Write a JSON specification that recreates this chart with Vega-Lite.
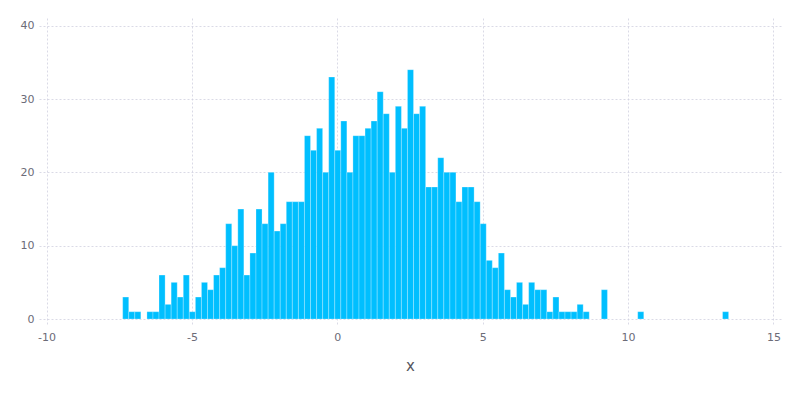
{
  "$schema": "https://vega.github.io/schema/vega-lite/v6.json",
  "width": 742,
  "height": 308,
  "autosize": {"type": "none"},
  "padding": {"left": 39, "top": 18, "right": 19, "bottom": 74},
  "background": "white",
  "config": {
    "view": {"stroke": null},
    "font": "DejaVu Sans",
    "axis": {
      "domain": false,
      "ticks": false,
      "grid": true,
      "gridColor": "#D0D0E0",
      "gridDash": [2, 2],
      "gridWidth": 0.8,
      "labelColor": "#6c6c78",
      "labelFont": "DejaVu Sans",
      "labelFontSize": 11,
      "titleColor": "#565660",
      "titleFont": "DejaVu Sans",
      "titleFontWeight": "normal",
      "titleFontSize": 15
    }
  },
  "data": {
    "values": [
      {"start": -7.382, "end": -7.174, "count": 3},
      {"start": -7.174, "end": -6.965, "count": 1},
      {"start": -6.965, "end": -6.757, "count": 1},
      {"start": -6.548, "end": -6.340, "count": 1},
      {"start": -6.340, "end": -6.132, "count": 1},
      {"start": -6.132, "end": -5.923, "count": 6},
      {"start": -5.923, "end": -5.715, "count": 2},
      {"start": -5.715, "end": -5.506, "count": 5},
      {"start": -5.506, "end": -5.298, "count": 3},
      {"start": -5.298, "end": -5.090, "count": 6},
      {"start": -5.090, "end": -4.881, "count": 1},
      {"start": -4.881, "end": -4.673, "count": 3},
      {"start": -4.673, "end": -4.464, "count": 5},
      {"start": -4.464, "end": -4.256, "count": 4},
      {"start": -4.256, "end": -4.048, "count": 6},
      {"start": -4.048, "end": -3.839, "count": 7},
      {"start": -3.839, "end": -3.631, "count": 13},
      {"start": -3.631, "end": -3.422, "count": 10},
      {"start": -3.422, "end": -3.214, "count": 15},
      {"start": -3.214, "end": -3.006, "count": 6},
      {"start": -3.006, "end": -2.797, "count": 9},
      {"start": -2.797, "end": -2.589, "count": 15},
      {"start": -2.589, "end": -2.380, "count": 13},
      {"start": -2.380, "end": -2.172, "count": 20},
      {"start": -2.172, "end": -1.964, "count": 12},
      {"start": -1.964, "end": -1.755, "count": 13},
      {"start": -1.755, "end": -1.547, "count": 16},
      {"start": -1.547, "end": -1.338, "count": 16},
      {"start": -1.338, "end": -1.130, "count": 16},
      {"start": -1.130, "end": -0.922, "count": 25},
      {"start": -0.922, "end": -0.713, "count": 23},
      {"start": -0.713, "end": -0.505, "count": 26},
      {"start": -0.505, "end": -0.296, "count": 20},
      {"start": -0.296, "end": -0.088, "count": 33},
      {"start": -0.088, "end": 0.120, "count": 23},
      {"start": 0.120, "end": 0.329, "count": 27},
      {"start": 0.329, "end": 0.537, "count": 20},
      {"start": 0.537, "end": 0.746, "count": 25},
      {"start": 0.746, "end": 0.954, "count": 25},
      {"start": 0.954, "end": 1.162, "count": 26},
      {"start": 1.162, "end": 1.371, "count": 27},
      {"start": 1.371, "end": 1.579, "count": 31},
      {"start": 1.579, "end": 1.788, "count": 28},
      {"start": 1.788, "end": 1.996, "count": 20},
      {"start": 1.996, "end": 2.204, "count": 29},
      {"start": 2.204, "end": 2.413, "count": 26},
      {"start": 2.413, "end": 2.621, "count": 34},
      {"start": 2.621, "end": 2.830, "count": 28},
      {"start": 2.830, "end": 3.038, "count": 29},
      {"start": 3.038, "end": 3.246, "count": 18},
      {"start": 3.246, "end": 3.455, "count": 18},
      {"start": 3.455, "end": 3.663, "count": 22},
      {"start": 3.663, "end": 3.872, "count": 20},
      {"start": 3.872, "end": 4.080, "count": 20},
      {"start": 4.080, "end": 4.288, "count": 16},
      {"start": 4.288, "end": 4.497, "count": 18},
      {"start": 4.497, "end": 4.705, "count": 18},
      {"start": 4.705, "end": 4.914, "count": 16},
      {"start": 4.914, "end": 5.122, "count": 13},
      {"start": 5.122, "end": 5.330, "count": 8},
      {"start": 5.330, "end": 5.539, "count": 7},
      {"start": 5.539, "end": 5.747, "count": 9},
      {"start": 5.747, "end": 5.956, "count": 4},
      {"start": 5.956, "end": 6.164, "count": 3},
      {"start": 6.164, "end": 6.372, "count": 5},
      {"start": 6.372, "end": 6.581, "count": 2},
      {"start": 6.581, "end": 6.789, "count": 5},
      {"start": 6.789, "end": 6.998, "count": 4},
      {"start": 6.998, "end": 7.206, "count": 4},
      {"start": 7.206, "end": 7.414, "count": 1},
      {"start": 7.414, "end": 7.623, "count": 3},
      {"start": 7.623, "end": 7.831, "count": 1},
      {"start": 7.831, "end": 8.040, "count": 1},
      {"start": 8.040, "end": 8.248, "count": 1},
      {"start": 8.248, "end": 8.456, "count": 2},
      {"start": 8.456, "end": 8.665, "count": 1},
      {"start": 9.082, "end": 9.290, "count": 4},
      {"start": 10.332, "end": 10.540, "count": 1},
      {"start": 13.250, "end": 13.458, "count": 1}
    ]
  },
  "mark": {"type": "rect", "color": "#00BFFF", "stroke": "white", "strokeWidth": 0.5, "strokeOpacity": 0.5},
  "encoding": {
    "x": {
      "field": "start",
      "type": "quantitative",
      "scale": {"domain": [-10.26, 15.26], "nice": false, "zero": false},
      "axis": {
        "values": [-10, -5, 0, 5, 10, 15],
        "title": "x",
        "labelPadding": 5,
        "titlePadding": 16,
        "labelFlush": false,
        "labelExpr": "datum.value < 0 ? '-' + abs(datum.value) : '' + datum.value"
      }
    },
    "x2": {"field": "end"},
    "y": {
      "field": "count",
      "type": "quantitative",
      "scale": {"domain": [-0.95, 41.05], "nice": false, "zero": false},
      "axis": {"values": [0, 10, 20, 30, 40], "title": null, "labelPadding": 5}
    },
    "y2": {"datum": 0}
  }
}
